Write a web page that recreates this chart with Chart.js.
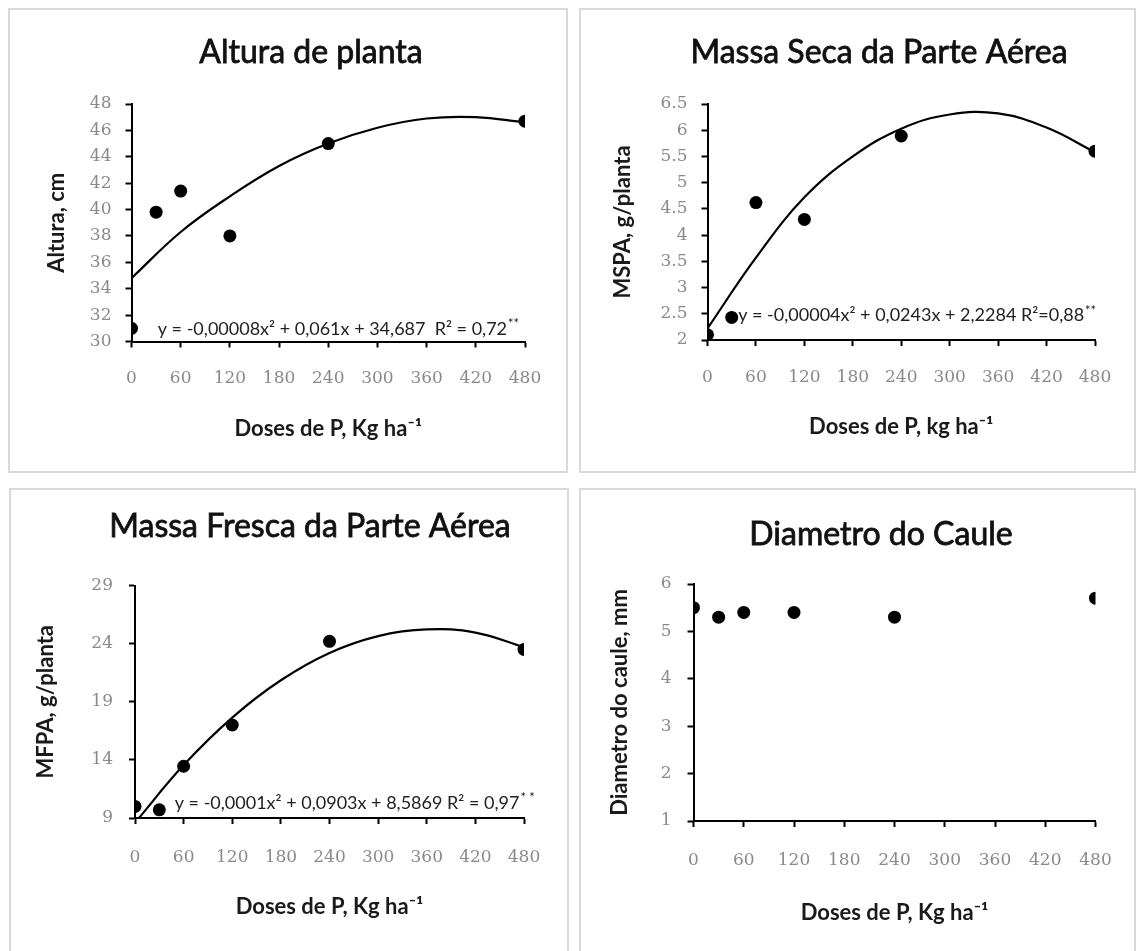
<!DOCTYPE html>
<html>
<head>
<meta charset="utf-8">
<script src="https://cdn.jsdelivr.net/npm/chart.js@4.4.1/dist/chart.umd.min.js"></script>
<style>
  body { margin: 0; background: #fff; width: 1138px; height: 951px; position: relative; overflow: hidden; }
  .panel { position: absolute; box-sizing: border-box; border: 2px solid #d9d9d9; }
  canvas { position: absolute; }
</style>
</head>
<body>
<div class="panel" style="left:8px;top:8px;width:560px;height:465px"></div>
<div class="panel" style="left:579px;top:8px;width:557px;height:465px"></div>
<div class="panel" style="left:9px;top:488px;width:560px;height:470px"></div>
<div class="panel" style="left:579px;top:488px;width:557px;height:470px"></div>
<canvas id="cAltura" width="560" height="464" style="left:8px;top:8px"></canvas>
<canvas id="cMspa" width="557" height="464" style="left:579px;top:8px"></canvas>
<canvas id="cMfpa" width="560" height="463" style="left:9px;top:488px"></canvas>
<canvas id="cDiam" width="557" height="463" style="left:579px;top:488px"></canvas>
<script>
// doses de P (kg/ha) e médias observadas
const doses = [0, 30, 60, 120, 240, 480];
const alturaObs = [31.0, 39.8, 41.4, 38.0, 45.0, 46.7];
const mspaObs = [2.1, 2.43, 4.62, 4.3, 5.89, 5.6];
const mfpaObs = [10.0, 9.7, 13.45, 17.0, 24.2, 23.5];
const diametroObs = [5.5, 5.3, 5.4, 5.4, 5.3, 5.7];

// curvas de tendência
const curveDoses = [0, 60, 120, 180, 240, 300, 360, 420, 480];
const alturaFit = [34.8, 38.3, 41.0, 43.3, 45.0, 46.2, 46.9, 47.0, 46.6];
const mspaFit = [2.22, 3.57, 4.72, 5.5, 6.03, 6.3, 6.32, 6.05, 5.58];
const mfpaFit = [8.59, 13.55, 17.64, 20.85, 23.2, 24.65, 25.22, 24.95, 23.7];

// ticks
const doseTicks = [0, 60, 120, 180, 240, 300, 360, 420, 480];
const alturaTicks = [30, 32, 34, 36, 38, 40, 42, 44, 46, 48];
const mspaTicks = [2, 2.5, 3, 3.5, 4, 4.5, 5, 5.5, 6, 6.5];
const mfpaTicks = [9, 14, 19, 24, 29];
const diametroTicks = [1, 2, 3, 4, 5, 6];

const pts = (xs, ys) => xs.map((x, i) => ({ x: x, y: ys[i] }));

const panelText = {
  id: 'panelText',
  afterDraw(chart, args, o) {
    const ctx = chart.ctx;
    ctx.save();
    ctx.fillStyle = '#111';
    ctx.strokeStyle = '#111';
    ctx.lineWidth = 0.8;
    ctx.font = '32px Lato';
    ctx.textAlign = 'center';
    ctx.textBaseline = 'alphabetic';
    ctx.fillText(o.title, o.titleX, o.titleY);
    ctx.strokeText(o.title, o.titleX, o.titleY);
    if (o.eq) {
      const x = chart.scales.x.getPixelForValue(o.eq.x);
      const y = chart.scales.y.getPixelForValue(o.eq.y);
      ctx.fillStyle = '#222';
      ctx.font = '18px Lato';
      ctx.textAlign = 'left';
      ctx.textBaseline = 'middle';
      ctx.fillText(o.eq.text, x, y);
      const w = ctx.measureText(o.eq.text).width;
      ctx.font = '13px Lato';
      ctx.fillText(o.eq.sig, x + w + 1, y - 5);
    }
    ctx.restore();
  }
};

function makePanel(p) {
  const canvas = document.getElementById(p.id);
  const W = canvas.width, H = canvas.height;
  const datasets = [{
    data: pts(doses, p.obs),
    pointRadius: 6.5,
    pointHoverRadius: 6.5,
    backgroundColor: '#000',
    borderWidth: 0
  }];
  if (p.fit) {
    datasets.push({
      data: pts(curveDoses, p.fit),
      showLine: true,
      pointRadius: 0,
      borderColor: '#000',
      borderWidth: 2.2,
      tension: 0.4
    });
  }
  const axisLine = { color: '#000', width: 2 };
  const grid = { drawOnChartArea: false, drawTicks: true, tickLength: 6, tickColor: '#000', tickWidth: 2 };
  const tickFont = { family: 'DejaVu Serif', size: 17 };
  const titleFont = { family: 'Lato', size: 22, weight: 'bold' };
  new Chart(canvas, {
    type: 'scatter',
    data: { datasets: datasets },
    options: {
      responsive: false,
      animation: false,
      locale: 'en-US',
      layout: { padding: { top: p.area.top, right: W - p.area.right, left: 0, bottom: 0 } },
      plugins: {
        legend: { display: false },
        tooltip: { enabled: false },
        panelText: { title: p.title, titleX: p.titleX, titleY: p.titleY, eq: p.eq }
      },
      scales: {
        x: {
          type: 'linear', min: 0, max: 480,
          afterBuildTicks: s => { s.ticks = doseTicks.map(v => ({ value: v })); },
          afterFit: s => { s.height = H - p.area.bottom; },
          border: axisLine, grid: grid,
          ticks: { color: '#8a8a8a', font: tickFont, padding: p.xPad, maxRotation: 0,
                   callback: v => String(v) },
          title: { display: true, text: p.xTitle, color: '#1a1a1a', font: titleFont,
                   padding: { top: 0, bottom: H - p.xTitleY - 13.2 } }
        },
        y: {
          type: 'linear', min: p.yTicks[0], max: p.yTicks[p.yTicks.length - 1],
          afterBuildTicks: s => { s.ticks = p.yTicks.map(v => ({ value: v })); },
          afterFit: s => { s.width = p.area.left; },
          border: axisLine, grid: grid,
          ticks: { color: '#8a8a8a', font: tickFont, padding: p.yPad,
                   callback: v => String(v) },
          title: { display: true, text: p.yTitle, color: '#1a1a1a', font: titleFont,
                   padding: { top: p.yTitleX - 13.2, bottom: 0 } }
        }
      }
    },
    plugins: [panelText]
  });
}

makePanel({
  id: 'cAltura', obs: alturaObs, fit: alturaFit, yTicks: alturaTicks,
  area: { left: 123.5, top: 96, right: 517, bottom: 333.5 },
  title: 'Altura de planta', titleX: 303, titleY: 55,
  yTitle: 'Altura, cm', yTitleX: 49, xTitle: 'Doses de P, Kg ha⁻¹', xTitleY: 421,
  xPad: 21, yPad: 14,
  eq: { text: 'y = -0,00008x² + 0,061x + 34,687  R² = 0,72', sig: '**', x: 32, y: 30.95 }
});
makePanel({
  id: 'cMspa', obs: mspaObs, fit: mspaFit, yTicks: mspaTicks,
  area: { left: 128.5, top: 96, right: 516, bottom: 332 },
  title: 'Massa Seca da Parte Aérea', titleX: 300, titleY: 55,
  yTitle: 'MSPA, g/planta', yTitleX: 43.5, xTitle: 'Doses de P, kg ha⁻¹', xTitleY: 419,
  xPad: 21, yPad: 14,
  eq: { text: 'y = -0,00004x² + 0,0243x + 2,2284 R²=0,88', sig: '**', x: 38, y: 2.47 }
});
makePanel({
  id: 'cMfpa', obs: mfpaObs, fit: mfpaFit, yTicks: mfpaTicks,
  area: { left: 126, top: 97.5, right: 515, bottom: 330 },
  title: 'Massa Fresca da Parte Aérea', titleX: 301, titleY: 49,
  yTitle: 'MFPA, g/planta', yTitleX: 37, xTitle: 'Doses de P, Kg ha⁻¹', xTitleY: 419,
  xPad: 23, yPad: 16,
  eq: { text: 'y = -0,0001x² + 0,0903x + 8,5869 R² = 0,97', sig: '* *', x: 49, y: 10.3 }
});
makePanel({
  id: 'cDiam', obs: diametroObs, fit: null, yTicks: diametroTicks,
  area: { left: 114.5, top: 96, right: 516.5, bottom: 333 },
  title: 'Diametro do Caule', titleX: 302, titleY: 57,
  yTitle: 'Diametro do caule, mm', yTitleX: 41, xTitle: 'Doses de P, Kg ha⁻¹', xTitleY: 425,
  xPad: 23, yPad: 16,
  eq: null
});
</script>
</body>
</html>
